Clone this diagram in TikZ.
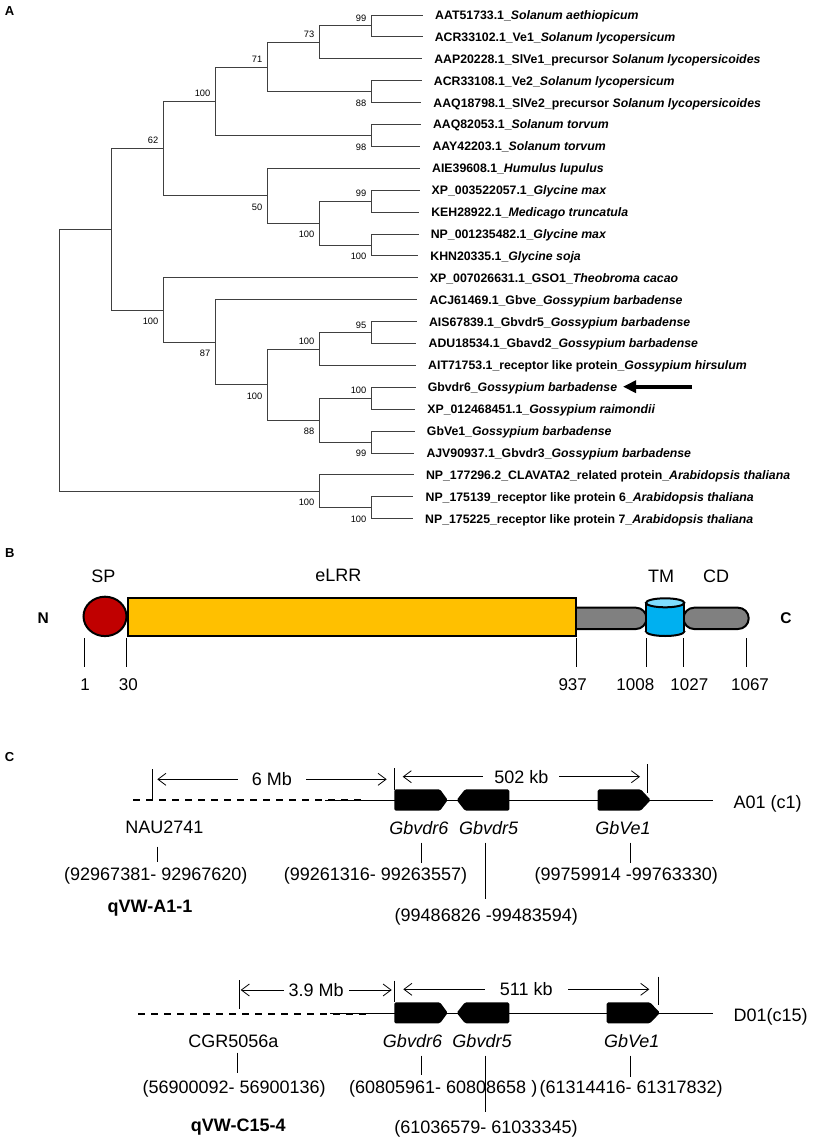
\documentclass[tikz,border=0pt]{standalone}
\usepackage{fontspec}
\setmainfont{Liberation Sans}
\usetikzlibrary{arrows.meta}
\definecolor{spred}{HTML}{C00000}
\definecolor{lrrgold}{HTML}{FFC000}
\definecolor{linkgray}{HTML}{808080}
\definecolor{tmblue}{HTML}{00B0F0}
\definecolor{tmtop}{HTML}{7FDDFF}
\begin{document}
\begin{tikzpicture}[x=1pt, y=-1pt,
    branch/.style={line width=0.9pt, black!75},
    leaf/.style={anchor=base west, inner sep=0pt, font=\fontsize{12.3}{14}\selectfont\bfseries},
    bsup/.style={anchor=base east, inner sep=0pt, xshift=-4.5pt, yshift=4.5pt, font=\fontsize{9.3}{11}\selectfont},
    bsdn/.style={anchor=base east, inner sep=0pt, xshift=-4.5pt, yshift=-14.6pt, font=\fontsize{9.3}{11}\selectfont},
    panel/.style={inner sep=0pt, font=\fontsize{13}{15}\selectfont\bfseries},
    term/.style={inner sep=0pt, font=\fontsize{15.5}{17}\selectfont\bfseries},
    dom/.style={inner sep=0pt, font=\fontsize{18}{20}\selectfont},
    num/.style={inner sep=0pt, font=\fontsize{17}{19}\selectfont},
    domline/.style={line width=2pt},
    ctext/.style={inner sep=0pt, text depth=0pt, font=\fontsize{18}{20}\selectfont},
    gname/.style={inner sep=0pt, text depth=0pt, font=\fontsize{18}{20}\selectfont\itshape},
    qtl/.style={inner sep=0pt, text depth=0pt, font=\fontsize{18}{20}\selectfont\bfseries},
    gene/.style={fill=black, rounded corners=1.5pt},
    span/.style={{Straight Barb[length=8pt,width=12pt]}-{Straight Barb[length=8pt,width=12pt]}, line width=0.8pt},
    gap/.style={ctext, fill=white, inner ysep=2pt},
    tick/.style={line width=0.8pt},
    chrom/.style={line width=1pt},
    dashchrom/.style={line width=2pt, dash pattern=on 7pt off 6pt}]
\useasboundingbox (0,0) rectangle (812,1140);

% A
\node[panel] (pA) at (9.5,11.2) {A};
\foreach \i/\txt in {
    1/{AAT51733.1\_\textit{Solanum aethiopicum}},
    2/{ACR33102.1\_Ve1\_\textit{Solanum lycopersicum}},
    3/{AAP20228.1\_SlVe1\_precursor \textit{Solanum lycopersicoides}},
    4/{ACR33108.1\_Ve2\_\textit{Solanum lycopersicum}},
    5/{AAQ18798.1\_SlVe2\_precursor \textit{Solanum lycopersicoides}},
    6/{AAQ82053.1\_\textit{Solanum torvum}},
    7/{AAY42203.1\_\textit{Solanum torvum}},
    8/{AIE39608.1\_\textit{Humulus lupulus}},
    9/{XP\_003522057.1\_\textit{Glycine max}},
    10/{KEH28922.1\_\textit{Medicago truncatula}},
    11/{NP\_001235482.1\_\textit{Glycine max}},
    12/{KHN20335.1\_\textit{Glycine soja}},
    13/{XP\_007026631.1\_GSO1\_\textit{Theobroma cacao}},
    14/{ACJ61469.1\_Gbve\_\textit{Gossypium barbadense}},
    15/{AIS67839.1\_Gbvdr5\_\textit{Gossypium barbadense}},
    16/{ADU18534.1\_Gbavd2\_\textit{Gossypium barbadense}},
    17/{AIT71753.1\_receptor like protein\_\textit{Gossypium hirsulum}},
    18/{Gbvdr6\_\textit{Gossypium barbadense}},
    19/{XP\_012468451.1\_\textit{Gossypium raimondii}},
    20/{GbVe1\_\textit{Gossypium barbadense}},
    21/{AJV90937.1\_Gbvdr3\_\textit{Gossypium barbadense}},
    22/{NP\_177296.2\_CLAVATA2\_related protein\_\textit{Arabidopsis thaliana}},
    23/{NP\_175139\_receptor like protein 6\_\textit{Arabidopsis thaliana}},
    24/{NP\_175225\_receptor like protein 7\_\textit{Arabidopsis thaliana}}} {
  \pgfmathsetmacro\ly{15+21.9*(\i-1)}
  \pgfmathsetmacro\lx{423-0.435*(\i-1)}
  \coordinate (t\i) at (\lx,\ly);
  \node[leaf] (l\i) at ([xshift=12pt,yshift=-4.4pt]t\i) {\txt};
}
\coordinate (n1) at (371,25.95);
\coordinate (n2) at (319,42.4);
\coordinate (n3) at (371,91.65);
\coordinate (n4) at (267,67.0);
\coordinate (n5) at (371,135.45);
\coordinate (n6) at (215,101.2);
\coordinate (n7) at (371,201.15);
\coordinate (n8) at (371,244.95);
\coordinate (n9) at (319,223.05);
\coordinate (n10) at (267,195.7);
\coordinate (n11) at (163,148.45);
\coordinate (n12) at (371,332.55);
\coordinate (n13) at (319,349);
\coordinate (n14) at (371,398.25);
\coordinate (n15) at (371,442.05);
\coordinate (n16) at (319,420.15);
\coordinate (n17) at (267,384.6);
\coordinate (n18) at (215,342.15);
\coordinate (n19) at (163,310);
\coordinate (n20) at (111,229.2);
\coordinate (n21) at (371,507.75);
\coordinate (n22) at (319,491.3);
\coordinate (root) at (59,360.25);
\foreach \p/\c in {n1/t1,n1/t2,n2/n1,n2/t3,n3/t4,n3/t5,n4/n2,n4/n3,n5/t6,n5/t7,
    n6/n4,n6/n5,n7/t9,n7/t10,n8/t11,n8/t12,n9/n7,n9/n8,n10/t8,n10/n9,n11/n6,n11/n10,
    n12/t15,n12/t16,n13/n12,n13/t17,n14/t18,n14/t19,n15/t20,n15/t21,n16/n14,n16/n15,
    n17/n13,n17/n16,n18/t14,n18/n17,n19/t13,n19/n18,n20/n11,n20/n19,
    n21/t23,n21/t24,n22/t22,n22/n21,root/n20,root/n22}
  \draw[branch] (\p) |- (\c);
\foreach \n/\v/\s in {n1/99/bsup,n2/73/bsup,n3/88/bsdn,n4/71/bsup,n5/98/bsdn,n6/100/bsup,
    n7/99/bsup,n8/100/bsdn,n9/100/bsdn,n10/50/bsdn,n11/62/bsup,n12/95/bsup,n13/100/bsup,
    n14/100/bsup,n15/99/bsdn,n16/88/bsdn,n17/100/bsdn,n18/87/bsdn,n19/100/bsdn,
    n21/100/bsdn,n22/100/bsdn}
  \node[\s] (b\n) at (\n) {\v};
\coordinate (arrT) at (692,386.7);
\coordinate (arrH) at (623,386.7);
\draw[-{Triangle[length=13pt,width=12pt]}, line width=3.6pt] (arrT) -- (arrH);

% B
\node[panel] (pB) at (9.7,553.3) {B};
\node[term] (nterm) at (43.3,618.3) {N};
\node[term] (cterm) at (786,618.3) {C};
\node[dom] (sp) at (103.3,576.7) {SP};
\node[dom] (lrr) at (338.3,575) {eLRR};
\node[dom] (tm) at (661,576.7) {TM};
\node[dom] (cd) at (716,576.7) {CD};
\filldraw[domline, fill=linkgray, rounded corners=10.6pt] (566,607.7) rectangle (646.5,629);
\filldraw[domline, fill=linkgray, rounded corners=10.6pt] (683.5,607.7) rectangle (748.7,629);
\filldraw[domline, fill=spred] (105,616.4) ellipse [x radius=21.5pt, y radius=19.7pt];
\filldraw[domline, fill=lrrgold] (127.7,597.7) rectangle (576,636);
\filldraw[domline, fill=tmblue] (665.15,631.5) ellipse [x radius=19.15pt, y radius=4.5pt];
\fill[tmblue] (646,602.8) rectangle (684.3,631.5);
\draw[domline] (646,602.8) -- (646,631.5) (684.3,602.8) -- (684.3,631.5);
\filldraw[domline, fill=tmtop] (665.15,602.8) ellipse [x radius=19.15pt, y radius=4.5pt];
\foreach \x in {84.3,126.7,576.7,646,683.7,746.7}
  \draw[line width=0.9pt] (\x,638.3) -- (\x,667.3);
\node[num] (k1) at (85,685) {1};
\node[num] (k30) at (128.3,685) {30};
\node[num] (k937) at (572.7,685) {937};
\node[num] (k1008) at (635.3,685) {1008};
\node[num] (k1027) at (689.3,685) {1027};
\node[num] (k1067) at (750,685) {1067};

% C
\node[panel] (pC) at (9.5,756.7) {C};
\draw[dashchrom] (133.3,800) -- (367,800);
\draw[chrom] (325,800) -- (713.3,800);
\fill[gene] (394.3,789.3) -- (440,789.3) -- (447.7,800) -- (440,810.7) -- (394.3,810.7) -- cycle;
\fill[gene] (509.3,789.3) -- (465,789.3) -- (456.7,800) -- (465,810.7) -- (509.3,810.7) -- cycle;
\fill[gene] (597.7,789.3) -- (640.7,789.3) -- (650.7,800) -- (640.7,810.7) -- (597.7,810.7) -- cycle;
\draw[tick] (152.7,769.3) -- (152.7,800);
\draw[tick] (394.3,768.3) -- (394.3,790);
\draw[tick] (647.7,764.3) -- (647.7,792.7);
\coordinate (sA1) at (157.3,779.3);
\coordinate (sA2) at (386.7,779.3);
\coordinate (sA3) at (402.7,776.7);
\coordinate (sA4) at (640,776.7);
\draw[span] (sA1) -- node[gap, inner xsep=14pt] (dA1) {6 Mb} (sA2);
\draw[span] (sA3) -- node[gap, inner xsep=11pt] (dA2) {502 kb} (sA4);
\node[ctext, anchor=west] (chrA) at (733.3,801.7) {A01 (c1)};
\node[ctext] (nau) at (164.3,827.7) {NAU2741};
\node[gname] (gA6) at (418.8,827.7) {Gbvdr6};
\node[gname] (gA5) at (488.7,827.7) {Gbvdr5};
\node[gname] (gAv) at (623,827.7) {GbVe1};
\node[ctext] (pAm) at (155.8,874) {(92967381- 92967620)};
\node[ctext] (pA6) at (375.5,874) {(99261316- 99263557)};
\node[ctext] (pAv) at (626.3,874) {(99759914 -99763330)};
\node[ctext] (pA5) at (486.3,915) {(99486826 -99483594)};
\node[qtl] (qA) at (150,906) {qVW-A1-1};
\draw[tick] (157.3,846.7) -- (157.3,861.7);
\draw[tick] (421.7,842.7) -- (421.7,863.3);
\draw[tick] (485,842.7) -- (485,899.3);
\draw[tick] (630,842.7) -- (630,863.3);

\draw[dashchrom] (138.3,1013.5) -- (367,1013.5);
\draw[chrom] (330,1013) -- (713.3,1013);
\fill[gene] (394.3,1002.3) -- (440,1002.3) -- (447.7,1012.8) -- (440,1023.3) -- (394.3,1023.3) -- cycle;
\fill[gene] (509.3,1002.3) -- (465,1002.3) -- (456.7,1012.8) -- (465,1023.3) -- (509.3,1023.3) -- cycle;
\fill[gene] (606.7,1002.3) -- (650,1002.3) -- (660,1012.8) -- (650,1023.3) -- (606.7,1023.3) -- cycle;
\draw[tick] (239,980) -- (239,1009.3);
\draw[tick] (394.3,980.7) -- (394.3,1002.3);
\draw[tick] (658.3,976.7) -- (658.3,1005);
\coordinate (sD1) at (240.7,990);
\coordinate (sD2) at (391.7,990);
\coordinate (sD3) at (403.3,989.3);
\coordinate (sD4) at (649.3,989.3);
\draw[span] (sD1) -- node[gap, inner xsep=5pt] (dD1) {3.9 Mb} (sD2);
\draw[span] (sD3) -- node[gap, inner xsep=15pt] (dD2) {511 kb} (sD4);
\node[ctext, anchor=west] (chrD) at (733.3,1015) {D01(c15)};
\node[ctext] (cgr) at (233.3,1041) {CGR5056a};
\node[gname] (gD6) at (412.5,1041) {Gbvdr6};
\node[gname] (gD5) at (482,1041) {Gbvdr5};
\node[gname] (gDv) at (631.7,1041) {GbVe1};
\node[ctext] (pDm) at (234.2,1086.7) {(56900092- 56900136)};
\node[ctext, anchor=east] (pD6) at (537.5,1086.7) {(60805961- 60808658 )};
\node[ctext, anchor=west] (pDv) at (539.3,1086.7) {(61314416- 61317832)};
\node[ctext] (pD5) at (486,1126.7) {(61036579- 61033345)};
\node[qtl] (qD) at (238.3,1125) {qVW-C15-4};
\draw[tick] (237.7,1052.7) -- (237.7,1073.3);
\draw[tick] (421.7,1055.7) -- (421.7,1075);
\draw[tick] (485,1055.7) -- (485,1111.7);
\draw[tick] (630,1055.7) -- (630,1076.7);
\end{tikzpicture}
\end{document}
